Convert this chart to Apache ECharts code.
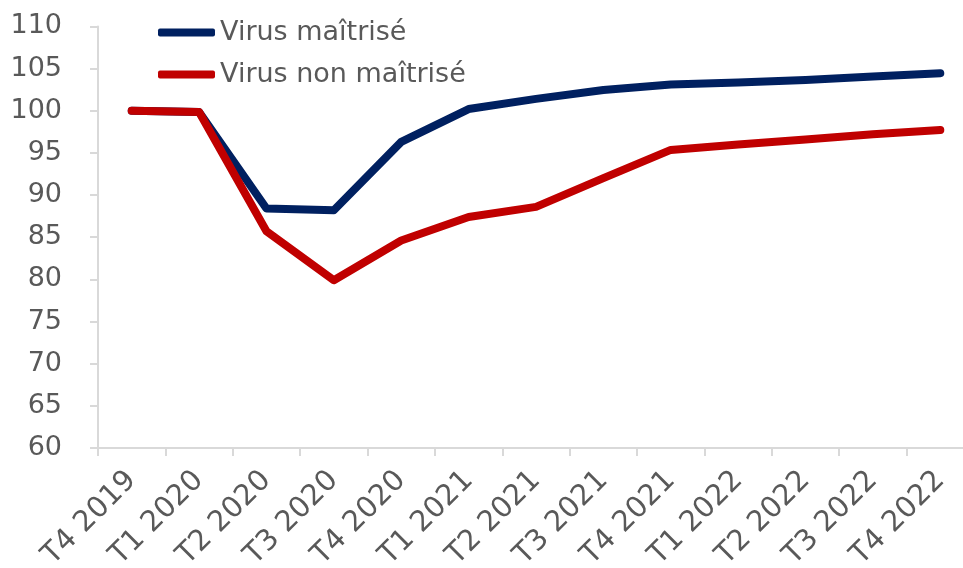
<!DOCTYPE html>
<html>
<head>
<meta charset="utf-8">
<script src="https://cdn.jsdelivr.net/npm/echarts@6/dist/echarts.min.js"></script>
<style>
  html, body { margin: 0; padding: 0; background: #fff; }
  #chart { width: 963px; height: 568px; }
</style>
</head>
<body>
<div id="chart"></div>
<script>
/* === Data === */
const quarters = ['T4 2019', 'T1 2020', 'T2 2020', 'T3 2020', 'T4 2020', 'T1 2021', 'T2 2021',
  'T3 2021', 'T4 2021', 'T1 2022', 'T2 2022', 'T3 2022', 'T4 2022'];
const maitrise = [100, 99.85, 88.4, 88.2, 96.3, 100.2, 101.4, 102.45, 103.1, 103.35, 103.65, 104.05, 104.45];
const nonMaitrise = [100, 99.85, 85.7, 79.9, 84.6, 87.4, 88.6, 92.0, 95.35, 96.0, 96.6, 97.2, 97.7];
const seriesNames = ['Virus maîtrisé', 'Virus non maîtrisé'];

/* === Style === */
const FONT = "'DejaVu Sans', sans-serif";
const TEXT_COLOR = '#595959';
const AXIS_COLOR = '#d9d9d9';

function initChart() {
  const chart = echarts.init(document.getElementById('chart'));
  chart.setOption({
    animation: false,
    // plot area runs past the right edge, so the last category is cut off
    grid: { left: 98, width: 876, top: 26.4, bottom: 120, outerBoundsMode: 'none' },
    legend: {
      orient: 'vertical',
      left: 153, top: 14,
      itemWidth: 57, itemHeight: 8, itemGap: 15,
      icon: 'roundRect',
      textStyle: { fontFamily: FONT, fontSize: 27, color: TEXT_COLOR },
      data: seriesNames
    },
    xAxis: {
      type: 'category',
      data: quarters,
      boundaryGap: true,
      axisLine: { lineStyle: { color: AXIS_COLOR, width: 2 } },
      axisTick: { show: true, length: 8, lineStyle: { color: AXIS_COLOR, width: 2 } },
      axisLabel: {
        interval: 0, rotate: 45, margin: 28,
        fontFamily: FONT, fontSize: 29, color: TEXT_COLOR
      }
    },
    yAxis: {
      type: 'value',
      min: 60, max: 110, interval: 5,
      axisLine: { show: true, lineStyle: { color: AXIS_COLOR, width: 2 } },
      axisTick: { show: true, length: 8, lineStyle: { color: AXIS_COLOR, width: 2 } },
      splitLine: { show: false },
      axisLabel: { margin: 36, fontFamily: FONT, fontSize: 27, color: TEXT_COLOR }
    },
    series: [
      {
        name: seriesNames[0],
        type: 'line',
        data: maitrise,
        symbol: 'none',
        itemStyle: { color: '#002060' },
        lineStyle: { color: '#002060', width: 8, cap: 'round', join: 'round' }
      },
      {
        name: seriesNames[1],
        type: 'line',
        data: nonMaitrise,
        symbol: 'none',
        itemStyle: { color: '#C00000' },
        lineStyle: { color: '#C00000', width: 8, cap: 'round', join: 'round' }
      }
    ]
  });
}

initChart();
</script>
</body>
</html>
